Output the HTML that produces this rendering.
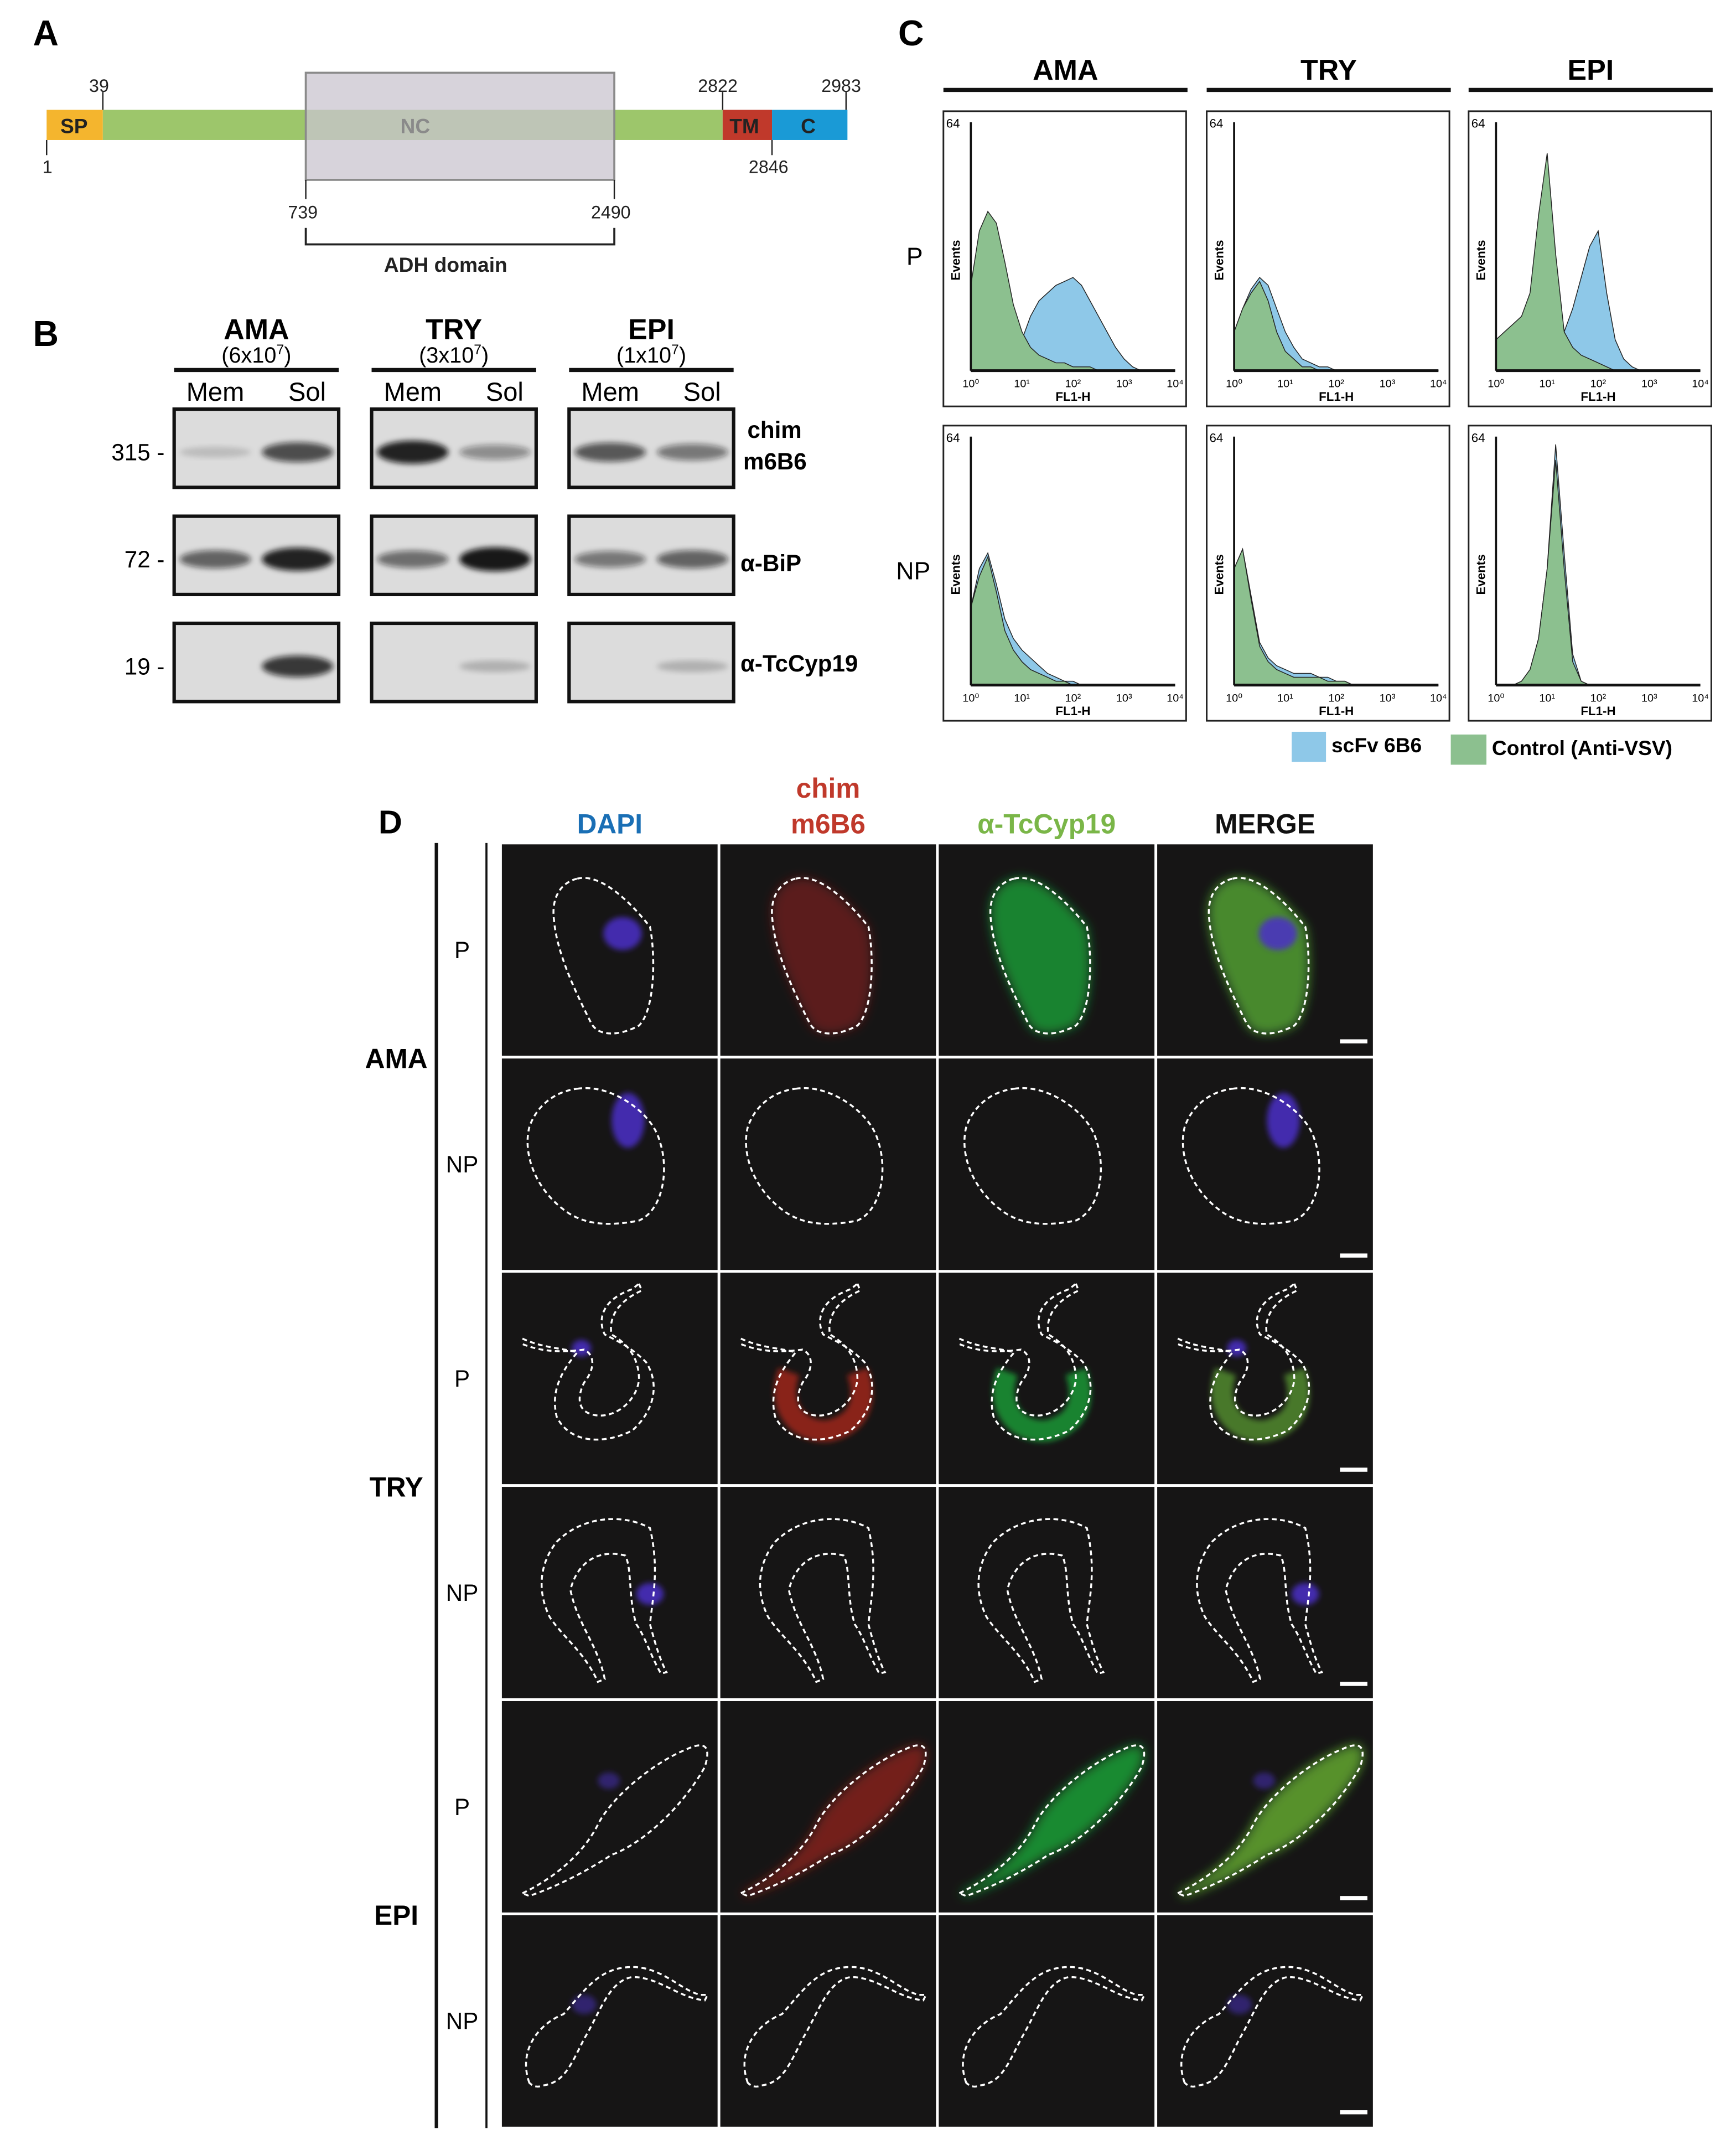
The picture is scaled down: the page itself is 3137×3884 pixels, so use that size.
<!DOCTYPE html>
<html><head><meta charset="utf-8"><style>
html,body{margin:0;padding:0;background:#fff}
svg{display:block}
text{font-family:"Liberation Sans",Arial,sans-serif}
</style></head><body>
<svg id="fig" width="3137" height="3884" viewBox="0 0 1266 1566" preserveAspectRatio="none" xmlns="http://www.w3.org/2000/svg">
<defs>
<filter id="bl" x="-30%" y="-30%" width="160%" height="160%"><feGaussianBlur stdDeviation="4"/></filter>
<filter id="bl2" x="-30%" y="-30%" width="160%" height="160%"><feGaussianBlur stdDeviation="2"/></filter>
</defs>
<rect width="1266" height="1566" fill="#fff"/>

<g>
<text x="24" y="33" font-size="26" font-weight="bold">A</text>
<rect x="34" y="80" width="41" height="22" fill="#f4b52e"/>
<rect x="75" y="80" width="452" height="22" fill="#9dc66b"/>
<rect x="527" y="80" width="36" height="22" fill="#c0392b"/>
<rect x="563" y="80" width="55" height="22" fill="#1a9ad6"/>
<text x="44" y="97" font-size="15" font-weight="bold" fill="#222">SP</text>
<text x="532" y="97" font-size="15" font-weight="bold" fill="#222">TM</text>
<text x="584" y="97" font-size="15" font-weight="bold" fill="#222">C</text>
<rect x="223" y="53" width="225" height="78" fill="#c9c4cf" fill-opacity="0.75" stroke="#8a8a8a" stroke-width="1.5"/>
<text x="292" y="97" font-size="15" font-weight="bold" fill="#8a8a8a">NC</text>
<g stroke="#222" stroke-width="1" fill="none">
<line x1="75" y1="67" x2="75" y2="80"/><line x1="34" y1="102" x2="34" y2="113"/>
<line x1="527" y1="67" x2="527" y2="80"/><line x1="617" y1="67" x2="617" y2="80"/>
<line x1="563" y1="102" x2="563" y2="113"/>
<line x1="223" y1="131" x2="223" y2="145"/><line x1="448" y1="131" x2="448" y2="145"/>
<path d="M223 166V178H448V166" stroke-width="1.5"/>
</g>
<g font-size="13" fill="#222">
<text x="65" y="67">39</text><text x="31" y="126">1</text>
<text x="509" y="67">2822</text><text x="599" y="67">2983</text><text x="546" y="126">2846</text>
<text x="210" y="159">739</text><text x="431" y="159">2490</text>
</g>
<text x="280" y="198" font-size="15" font-weight="bold" fill="#222">ADH domain</text>
</g>

<g id="pb">
<text x="24" y="252" font-size="26" font-weight="bold">B</text>
</g>
<g id="pc">
<text x="655" y="33" font-size="26" font-weight="bold">C</text>
</g>
<g id="pd">
<text x="276" y="607" font-size="24" font-weight="bold">D</text>
</g>
</svg>
<script>
const NS="http://www.w3.org/2000/svg";
function mk(tag,attrs,parent,txt){const e=document.createElementNS(NS,tag);for(const k in attrs)e.setAttribute(k,attrs[k]);if(txt!=null)e.textContent=txt;parent.appendChild(e);return e;}

/* ---------- Panel B ---------- */
const stages=["AMA","TRY","EPI"];
const cellCounts=["(6x10","(3x10","(1x10"];
const markers=["315 -","72 -","19 -"];
const bandMem=[[0.15,0.6,0.0],[0.9,0.55,0.0],[0.65,0.5,0.0]];
const bandSol=[[0.7,0.9,0.8],[0.4,0.95,0.2],[0.5,0.6,0.2]];
const pb=document.getElementById('pb');
const bx=[127,271,415], by=[298,376,454], bw=120, bh=57;
stages.forEach((s,i)=>{
  const t=mk('text',{x:bx[i]+60,y:247,'font-size':21,'font-weight':'bold','text-anchor':'middle'},pb,s);
  
  
  const c=mk('text',{x:bx[i]+60,y:264,'font-size':16,'text-anchor':'middle'},pb,cellCounts[i]);
  mk('tspan',{'font-size':10,dy:-6},c,'7');mk('tspan',{dy:6},c,')');
  mk('rect',{x:bx[i],y:268,width:bw,height:3,fill:'#111'},pb);
  mk('text',{x:bx[i]+30,y:292,'font-size':19,'text-anchor':'middle'},pb,'Mem');
  mk('text',{x:bx[i]+97,y:292,'font-size':19,'text-anchor':'middle'},pb,'Sol');
  by.forEach((y,r)=>{
    const bl=mk('rect',{x:bx[i],y:y,width:bw,height:bh,fill:'#dcdcdc',stroke:'#111','stroke-width':2.5},pb);
    
    
    const yy=y+bh*0.55;
    [[bandMem[i][r],bx[i]+30],[bandSol[i][r],bx[i]+90]].forEach(([v,xx])=>{
      if(v>0){const b=mk('ellipse',{cx:xx,cy:yy,rx:26,ry:3+6*v,fill:'#111','fill-opacity':v,filter:'url(#bl2)'},pb);
      }
    });
  });
});
markers.forEach((m,r)=>mk('text',{x:120,y:by[r]+bh*0.55+6,'font-size':17,'text-anchor':'end'},pb,m));
mk('text',{x:545,y:319,'font-size':17,'font-weight':'bold'},pb,'chim');
mk('text',{x:542,y:342,'font-size':17,'font-weight':'bold'},pb,'m6B6');
mk('text',{x:540,y:416,'font-size':17,'font-weight':'bold'},pb,'α-BiP');
mk('text',{x:540,y:489,'font-size':17,'font-weight':'bold'},pb,'α-TcCyp19');

/* ---------- Panel C ---------- */
const greenP_AMA=[22,36,41,38,28,17,10,6,4,3,2,2,1,1,1,0,0,0,0,0,0,0,0,0,0];
const blueP_AMA =[0,0,0,0,2,4,8,14,18,20,22,23,24,22,18,14,10,6,3,1,0,0,0,0,0];
const greenP_TRY=[10,16,20,23,18,10,5,3,1,1,0,0,0,0,0,0,0,0,0,0,0,0,0,0,0];
const blueP_TRY =[10,16,21,24,22,16,10,6,3,2,1,1,0,0,0,0,0,0,0,0,0,0,0,0,0];
const greenP_EPI=[8,10,12,14,20,40,56,30,10,6,4,3,2,1,0,0,0,0,0,0,0,0,0,0,0];
const blueP_EPI =[0,0,0,0,0,0,3,6,10,16,24,32,36,20,8,3,1,0,0,0,0,0,0,0,0];
const greenNP_AMA=[20,28,33,24,14,9,6,4,3,2,1,1,0,0,0,0,0,0,0,0,0,0,0,0,0];
const blueNP_AMA =[20,30,34,26,17,12,9,7,5,3,2,1,1,0,0,0,0,0,0,0,0,0,0,0,0];
const greenNP_TRY=[30,35,22,10,6,4,3,2,2,2,2,1,1,1,0,0,0,0,0,0,0,0,0,0,0];
const blueNP_TRY =[30,35,23,11,7,5,4,3,3,3,2,2,1,1,0,0,0,0,0,0,0,0,0,0,0];
const greenNP_EPI=[0,0,0,1,4,12,30,58,30,6,1,0,0,0,0,0,0,0,0,0,0,0,0,0,0];
const blueNP_EPI =[0,0,0,1,4,12,30,62,34,8,1,0,0,0,0,0,0,0,0,0,0,0,0,0,0];
const histGreen=[[greenP_AMA,greenP_TRY,greenP_EPI],[greenNP_AMA,greenNP_TRY,greenNP_EPI]];
const histBlue=[[blueP_AMA,blueP_TRY,blueP_EPI],[blueNP_AMA,blueNP_TRY,blueNP_EPI]];
const xTicks=["10⁰","10¹","10²","10³","10⁴"];
const rowLabels=["P","NP"];
const pc=document.getElementById('pc');
const cx=[688,880,1071], cy=[81,310], cw=177, ch=215;
stages.forEach((s,i)=>{
  mk('text',{x:cx[i]+89,y:58,'font-size':21,'font-weight':'bold','text-anchor':'middle'},pc,s);
  mk('rect',{x:cx[i],y:64,width:178,height:3,fill:'#111'},pc);
});
rowLabels.forEach((r,j)=>mk('text',{x:j?666:667,y:cy[j]+112,'font-size':18,'text-anchor':'middle'},pc,r));
for(let j=0;j<2;j++)for(let i=0;i<3;i++){
  const x0=cx[i],y0=cy[j];
  const box=mk('rect',{x:x0,y:y0,width:cw,height:ch,fill:'#fff',stroke:'#222','stroke-width':1.2},pc);
  
  
  const L=x0+20,R=x0+cw-8,B=y0+ch-26,T=y0+8;
  const X=k=>L+(R-L)*k/24, Y=v=>B-(B-T)*v/64;
  const drawH=(arr,col,name)=>{
    let d='M'+L+' '+B;
    arr.forEach((v,k)=>{d+=' L'+X(k).toFixed(1)+' '+Y(v).toFixed(1);});
    d+=' L'+R+' '+B+' Z';
    const p=mk('path',{d:d,fill:col,stroke:'#222','stroke-width':0.6},pc);
    
    
  };
  drawH(histBlue[j][i],'#8ec8e8','series-scfv-6b6');
  drawH(histGreen[j][i],'#8cc08f','series-control');
  mk('line',{x1:L,y1:T,x2:L,y2:B,stroke:'#111','stroke-width':1.5},pc);
  mk('line',{x1:L,y1:B,x2:R,y2:B,stroke:'#111','stroke-width':2},pc);
  mk('text',{x:L-18,y:T+4,'font-size':9},pc,'64');
  xTicks.forEach((t,k)=>mk('text',{x:L+(R-L)*k/4,y:B+12,'font-size':8,'text-anchor':'middle'},pc,t));
  mk('text',{x:(L+R)/2,y:B+22,'font-size':9,'font-weight':'bold','text-anchor':'middle'},pc,'FL1-H');
  mk('text',{x:0,y:0,'font-size':9,'font-weight':'bold','text-anchor':'middle',transform:`translate(${x0+12},${(T+B)/2+10}) rotate(-90)`},pc,'Events');
}
const lg1=mk('rect',{x:942,y:533,width:25,height:22,fill:'#8ec8e8'},pc);

mk('text',{x:971,y:548,'font-size':15,'font-weight':'bold'},pc,'scFv 6B6');
const lg2=mk('rect',{x:1058,y:535,width:26,height:22,fill:'#8cc08f'},pc);

mk('text',{x:1088,y:550,'font-size':15,'font-weight':'bold'},pc,'Control (Anti-VSV)');

/* ---------- Panel D ---------- */
const pd=document.getElementById('pd');
const colColors=["#1a6fb5","#c0392b","#7ab648","#111"];
const gx=365, gy=614, cwid=159.3, chei=156;
mk('text',{x:gx+cwid*0.5,y:607,'font-size':20,'font-weight':'bold','text-anchor':'middle',fill:colColors[0]},pd,'DAPI');
mk('text',{x:gx+cwid*1.5,y:581,'font-size':20,'font-weight':'bold','text-anchor':'middle',fill:colColors[1]},pd,'chim');
mk('text',{x:gx+cwid*1.5,y:607,'font-size':20,'font-weight':'bold','text-anchor':'middle',fill:colColors[1]},pd,'m6B6');
mk('text',{x:gx+cwid*2.5,y:607,'font-size':20,'font-weight':'bold','text-anchor':'middle',fill:colColors[2]},pd,'α-TcCyp19');
mk('text',{x:gx+cwid*3.5,y:607,'font-size':20,'font-weight':'bold','text-anchor':'middle',fill:colColors[3]},pd,'MERGE');
mk('rect',{x:317,y:614,width:2.5,height:936,fill:'#111'},pd);
mk('rect',{x:354,y:614,width:1.5,height:936,fill:'#111'},pd);
["AMA","TRY","EPI"].forEach((s,k)=>mk('text',{x:289,y:gy+chei*(2*k+1)+8,'font-size':20,'font-weight':'bold','text-anchor':'middle'},pd,s));
for(let r=0;r<6;r++)mk('text',{x:337,y:gy+chei*r+chei/2+6,'font-size':17,'text-anchor':'middle'},pd,r%2?'NP':'P');
const outlines={
 AMA_P:"M55 25 C75 20 100 50 108 60 C112 80 112 120 100 132 C85 140 70 140 65 130 C55 110 40 80 38 55 C36 40 42 28 55 25 Z",
 AMA_NP:"M55 22 C80 18 110 40 115 60 C122 80 118 110 100 118 C80 122 60 122 45 110 C25 95 15 70 20 50 C25 35 38 24 55 22 Z",
 TRY_P:"M15 48 C30 55 45 55 55 58 C45 70 35 85 40 105 C50 125 75 125 95 115 C112 100 115 80 105 65 C95 55 85 50 75 45 C70 35 72 20 95 12 L100 8 M100 8 L102 13 C82 22 78 35 80 45 C92 52 100 62 100 78 C98 95 80 108 65 103 C55 100 55 90 60 80 C68 70 68 60 60 56 C45 58 30 58 15 52",
 TRY_NP:"M40 40 C60 20 90 20 108 30 C115 60 110 80 108 100 C112 115 115 125 120 135 L116 136 C108 122 105 110 98 100 C92 80 95 60 90 50 C70 45 55 55 50 75 C55 100 70 115 75 140 L70 142 C60 120 45 110 35 95 C25 75 28 55 40 40 Z",
 EPI_P:"M15 140 C40 128 60 110 70 90 C80 70 110 45 135 35 C150 28 152 35 148 48 C130 80 100 105 80 112 C60 125 40 135 20 142 Z",
 EPI_NP:"M20 122 C12 100 25 80 45 72 C60 55 70 40 90 38 C115 35 130 55 145 58 L150 58 L148 62 C128 60 115 45 95 45 C78 48 72 70 60 90 C50 110 45 122 30 124 C25 126 22 124 20 122 Z"
};
const rowKeys=["AMA_P","AMA_NP","TRY_P","TRY_NP","EPI_P","EPI_NP"];
const chanRed=[0.45,0,0.55,0,0.6,0];
const chanGreen=[0.75,0,0.8,0.05,0.8,0.05];
const nucleus=[[88,65,14,12],[92,45,12,20],[58,55,7,6],[108,78,10,8],[78,58,8,6],[60,65,9,7]];
for(let r=0;r<6;r++)for(let c=0;c<4;c++){
  const x0=gx+c*cwid, y0=gy+r*chei;
  const g=mk('g',{transform:`translate(${x0+1},${y0+1})`},pd);
  const bg=mk('rect',{x:0,y:0,width:cwid-2,height:chei-2,fill:'#161515'},g);
  
  
  const d=outlines[rowKeys[r]];
  const closed=d.trim().endsWith('Z');
  if(c===1 && chanRed[r]>0 && closed) mk('path',{d:d,fill:'#b0281e','fill-opacity':chanRed[r],filter:'url(#bl)'},g);
  if(c===2 && chanGreen[r]>0.1 && closed) mk('path',{d:d,fill:'#1ca83a','fill-opacity':chanGreen[r],filter:'url(#bl)'},g);
  if(c===3 && chanGreen[r]>0.1 && closed){
    mk('path',{d:d,fill:'#2aa83a','fill-opacity':chanGreen[r],filter:'url(#bl)'},g);
    mk('path',{d:d,fill:'#c8a020','fill-opacity':chanRed[r]*0.5,filter:'url(#bl)'},g);
  }
  if(rowKeys[r]==="TRY_P" && c>0){
    const col=c===1?'#b0281e':(c===2?'#1ca83a':'#5a9a30');
    mk('path',{d:"M50 72 C40 100 60 118 80 115 C100 110 108 95 100 72",fill:'none',stroke:col,'stroke-width':16,'stroke-opacity':0.75,filter:'url(#bl2)'},g);
  }
  if(c===0||c===3){
    const n=nucleus[r];
    mk('ellipse',{cx:n[0],cy:n[1],rx:n[2],ry:n[3],fill:'#4a2fc8','fill-opacity':r>=4?0.5:0.85,filter:'url(#bl2)'},g);
  }
  mk('path',{d:d,fill:'none',stroke:'#fff','stroke-width':1.4,'stroke-dasharray':'3.5 2.5'},g);
  if(c===3) mk('rect',{x:cwid-26,y:chei-14,width:20,height:3,fill:'#fff'},g);
}
</script>
</body></html>
